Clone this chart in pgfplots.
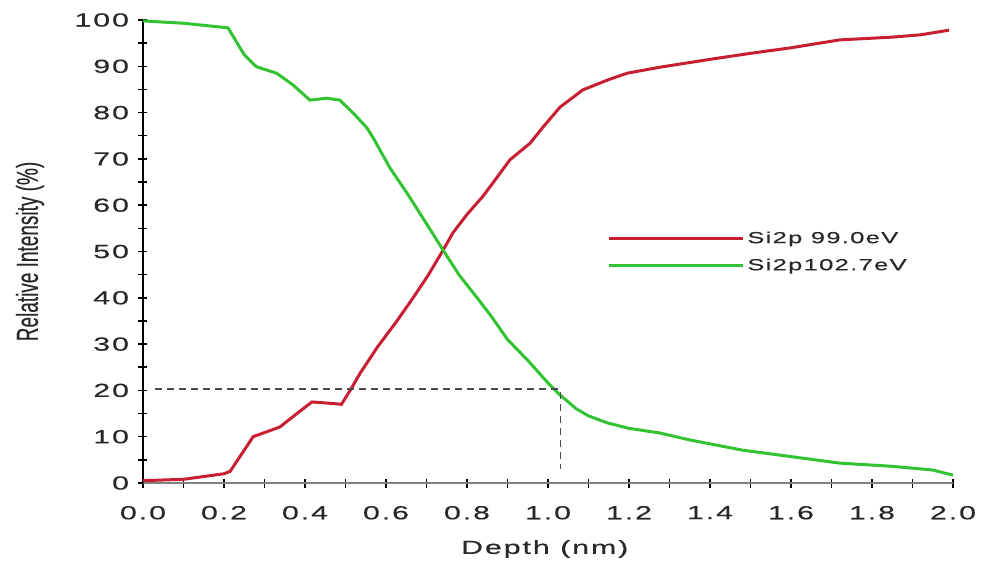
\documentclass[border=0pt]{standalone}
\usepackage{pgfplots}
\pgfplotsset{compat=1.18}
\usepackage{fontspec}
\setmainfont{Liberation Sans}
\newfontfamily\chartfont[FakeStretch=1.6,LetterSpace=10,FakeBold=0.4]{Liberation Sans}
\newfontfamily\legfont[FakeStretch=1.6,LetterSpace=8,FakeBold=0.3]{Liberation Sans}
\newfontfamily\labelfont[FakeBold=0.3]{Liberation Sans}
\definecolor{redline}{RGB}{200,30,50}
\definecolor{greenline}{RGB}{50,195,50}
\definecolor{txt}{RGB}{40,40,40}
\begin{document}
\begin{tikzpicture}
\begin{axis}[
  scale only axis,
  width=810bp, height=463bp,
  xmin=0, xmax=2, ymin=0, ymax=100,
  axis lines*=left,
  axis line style={-},
  x axis line style={gray, line width=2bp},
  y axis line style={black, line width=1.8bp},
  xtick={0,0.2,...,2.0},
  minor xtick={0.1,0.3,...,1.9},
  ytick={0,10,...,100},
  minor ytick={5,15,...,95},
  tick align=center,
  major tick length=9bp,
  minor tick length=9bp,
  every tick/.style={black, line width=1.5bp},
  /pgf/number format/assume math mode=true,
  xticklabel style={/pgf/number format/.cd, fixed, fixed zerofill, precision=1, /tikz/.cd, font=\chartfont\fontsize{19bp}{22bp}\selectfont, text=txt, yshift=-15bp},
  yticklabel style={font=\chartfont\fontsize{19bp}{22bp}\selectfont, text=txt, xshift=-6bp},
  xlabel={Depth (nm)},
  xlabel style={at={(rel axis cs:0.496,-0.1425)}, anchor=center, font=\chartfont\fontsize{19bp}{22bp}\selectfont, text=txt},
  ylabel={\scalebox{1}[1.6]{Relative Intensity (\%)}},
  ylabel style={at={(rel axis cs:-0.1395,0.5)}, anchor=center, rotate=0, font=\labelfont\fontsize{19bp}{22bp}\selectfont, text=txt},
  legend image code/.code={\draw[#1] (0bp,0bp) -- (108bp,0bp); \path (0bp,0bp) -- (134bp,0bp);},
  legend style={at={(axis cs:1.146,55)}, anchor=north west, draw=none, fill=none, inner sep=0pt,
    font=\legfont\fontsize{16bp}{19bp}\selectfont, text=txt,
    row sep=8bp, nodes={inner sep=3bp}},
  legend cell align=left,
  clip=false,
]
\addplot[redline, line width=3bp] coordinates {
(0,0.5)(0.1,0.8)(0.2,2)(0.215,2.5)(0.272,10)(0.338,12.1)(0.38,15)(0.417,17.5)(0.45,17.3)(0.49,17)(0.515,20.5)(0.536,23.7)(0.58,29.5)(0.627,35)(0.667,40)(0.705,45)(0.741,50.3)(0.765,54)(0.8,58)(0.84,62)(0.874,66)(0.906,69.8)(0.956,73.4)(0.988,76.9)(1.03,81.2)(1.086,84.9)(1.146,87)(1.195,88.5)(1.276,89.8)(1.4,91.5)(1.5,92.8)(1.6,94)(1.72,95.7)(1.85,96.3)(1.92,96.8)(1.99,97.8)
};
\addlegendentry{Si2p 99.0eV}
\addplot[greenline, line width=3bp] coordinates {
(0,99.8)(0.1,99.3)(0.21,98.3)(0.25,92.5)(0.28,89.9)(0.33,88.5)(0.37,86)(0.412,82.7)(0.454,83.1)(0.486,82.7)(0.52,79.8)(0.553,76.7)(0.568,74.6)(0.61,68)(0.652,62.6)(0.7,56)(0.741,50.3)(0.78,45)(0.825,40)(0.86,36)(0.9,31)(0.95,26.5)(1.0,21.6)(1.03,19)(1.07,16)(1.1,14.5)(1.146,13)(1.2,11.8)(1.276,10.8)(1.35,9.3)(1.48,7.1)(1.6,5.7)(1.72,4.3)(1.85,3.6)(1.95,2.8)(2.0,1.7)
};
\addlegendentry{Si2p102.7eV}
\addplot[forget plot, black!70, line width=1.3bp, dash pattern=on 7bp off 5bp] coordinates {(0.03,20.3)(1.03,20.3)(1.03,3)};
\path (rel axis cs:0,0) ++(-143bp,-79bp) rectangle ++(989bp,562bp);
\end{axis}
\end{tikzpicture}
\end{document}
